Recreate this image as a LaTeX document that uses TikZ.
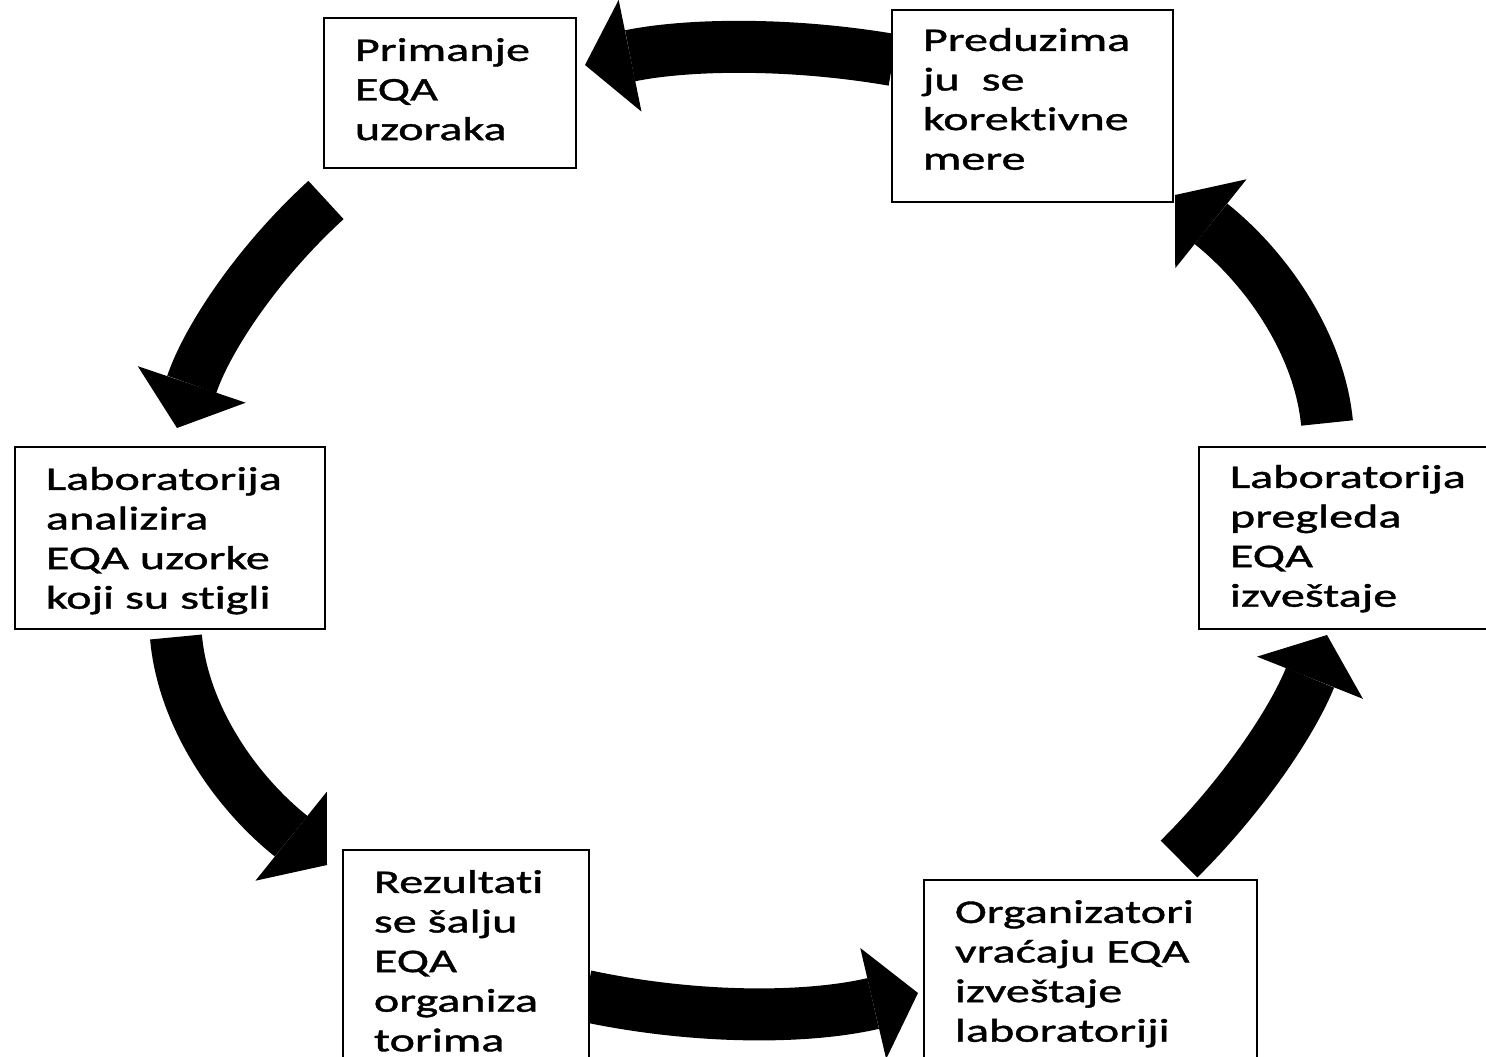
\documentclass[tikz,border=0pt]{standalone}
\usepackage{fontspec}
\setmainfont[FakeStretch=1.46,FakeBold=1.2,Ligatures={NoCommon,NoContextual},Contextuals=NoAlternate]{Carlito}
\usetikzlibrary{arrows.meta,calc}
\newcommand\boxindent{\leftskip=31pt\relax}
\newcommand\bigarrow[3]{\draw[flow] (#1) .. controls ($(#1)!2/3!(#3)$) and ($(#2)!2/3!(#3)$) .. (#2);}
\begin{document}
\begin{tikzpicture}[x=1pt,y=-1pt,
  box/.style={draw=black, line width=1.8pt, fill=white, inner sep=0pt, anchor=north west,
    align=left, font=\fontsize{33pt}{39.6pt}\selectfont},
  flow/.style={line width=52pt, -{Triangle[width=114pt,length=46pt,line width=0pt]}}]
\useasboundingbox (0,0) rectangle (1486,1057);
\fill[white] (0,0) rectangle (1486,1057);
% arrow end points and bend points
\coordinate (a1s) at (893,60);   \coordinate (a1e) at (585,65);   \coordinate (a1q) at (739,33.5);
\coordinate (a2s) at (326,200);  \coordinate (a2e) at (177,428);  \coordinate (a2q) at (222,295);
\coordinate (a3s) at (176,637);  \coordinate (a3e) at (327,865);  \coordinate (a3q) at (186,752);
\coordinate (a4s) at (586,996);  \coordinate (a4e) at (918,993);  \coordinate (a4q) at (753,1031.5);
\coordinate (a5s) at (1179,859); \coordinate (a5e) at (1327,635); \coordinate (a5q) at (1276,763);
\coordinate (a6s) at (1327,423); \coordinate (a6e) at (1175,195); \coordinate (a6q) at (1316,308);
\bigarrow{a1s}{a1e}{a1q}
\bigarrow{a2s}{a2e}{a2q}
\bigarrow{a3s}{a3e}{a3q}
\bigarrow{a4s}{a4e}{a4q}
\bigarrow{a5s}{a5e}{a5q}
\bigarrow{a6s}{a6e}{a6q}
% boxes
\node[box, text width=252pt, text height=43pt, text depth=107pt] (b1) at (323,17)
  {\boxindent Primanje\\EQA\\uzoraka\par};
\node[box, text width=281pt, text height=41pt, text depth=151pt] (b2) at (891,9)
  {\boxindent Preduzima\\ju\ \ se\\korekt\kern0pt ivne\\mere\par};
\node[box, text width=310pt, text height=43pt, text depth=139pt] (b3) at (14,446)
  {\boxindent Laboratorija\\analizira\\EQA uzorke\\koji su stigli\par};
\node[box, text width=292pt, text height=41pt, text depth=141pt] (b4) at (1198,446)
  {\boxindent Laboratorija\\pregleda\\EQA\\izveštaje\par};
\node[box, text width=246pt, text height=43pt, text depth=230pt] (b5) at (342,849)
  {\boxindent Rezultat\kern0pt i\\se šalju\\EQA\\organiza\\torima\par};
\node[box, text width=333pt, text height=43pt, text depth=230pt] (b6) at (923,879)
  {\boxindent Organizatori\\vraćaju EQA\\izveštaje\\laboratoriji\par};
\end{tikzpicture}
\end{document}
